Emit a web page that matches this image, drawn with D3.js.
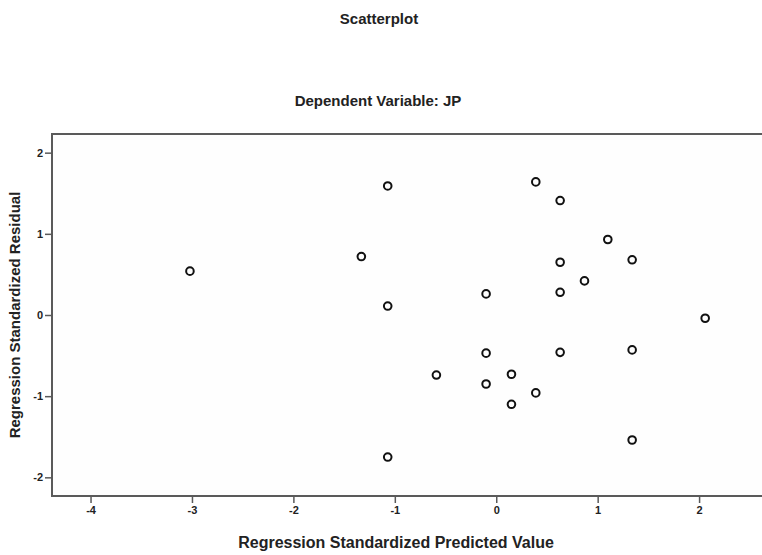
<!DOCTYPE html>
<html>
<head>
<meta charset="utf-8">
<script src="https://cdn.jsdelivr.net/npm/d3@7"></script>
<style>
  body { margin: 0; background: #fff; }
  svg text { font-family: "Liberation Sans", Arial, sans-serif; font-weight: bold; fill: #222; }
</style>
</head>
<body>
<div id="chart"></div>
<script>
// predicted value (x) and residual (y) for each case
var predicted = [-3.02, -1.33, -1.07, -1.07, -1.07, -0.59, -0.10, -0.10, -0.10, 0.15, 0.15,
                 0.39, 0.39, 0.63, 0.63, 0.63, 0.63, 0.87, 1.10, 1.34, 1.34, 1.34, 2.06];
var residual  = [0.54, 0.72, 1.59, 0.11, -1.75, -0.74, 0.26, -0.47, -0.85, -0.73, -1.10,
                 1.64, -0.96, 1.41, 0.65, 0.28, -0.46, 0.42, 0.93, 0.68, -0.43, -1.54, -0.04];
var xTicks = [-4, -3, -2, -1, 0, 1, 2];
var yTicks = [-2, -1, 0, 1, 2];

var data = predicted.map(function(d, i) { return {x: d, y: residual[i]}; });

var W = 762, H = 555;
var plot = {left: 52, top: 134, right: 764, bottom: 496};

var svg = d3.select("#chart").append("svg")
    .attr("width", W)
    .attr("height", H);

var x = d3.scaleLinear().domain([-4.38, 2.64]).range([plot.left, plot.right]);
var y = d3.scaleLinear().domain([-2.23, 2.23]).range([plot.bottom, plot.top]);

// plain hyphen minus like the original output
var fmt = function(d) { return String(d); };

// frame
svg.append("rect")
    .attr("x", plot.left)
    .attr("y", plot.top)
    .attr("width", plot.right - plot.left)
    .attr("height", plot.bottom - plot.top)
    .attr("fill", "#fefefe")
    .attr("stroke", "#5a5a5a")
    .attr("stroke-width", 2);

var xAxis = svg.append("g")
    .attr("transform", "translate(0," + plot.bottom + ")")
    .call(d3.axisBottom(x).tickValues(xTicks).tickFormat(fmt).tickSize(7).tickPadding(3));

var yAxis = svg.append("g")
    .attr("transform", "translate(" + plot.left + ",0)")
    .call(d3.axisLeft(y).tickValues(yTicks).tickFormat(fmt).tickSize(7).tickPadding(2));

[xAxis, yAxis].forEach(function(g) {
  g.select(".domain").remove();
  g.selectAll(".tick line").attr("stroke", "#5a5a5a").attr("stroke-width", 1.5);
  g.selectAll(".tick text").style("font-size", "11px").attr("fill", "#333");
});

// points
svg.append("g").selectAll("circle")
  .data(data)
  .enter().append("circle")
    .attr("cx", function(d) { return x(d.x); })
    .attr("cy", function(d) { return y(d.y); })
    .attr("r", 3.8)
    .attr("fill", "none")
    .attr("stroke", "#111")
    .attr("stroke-width", 2);

// titles
svg.append("text")
    .attr("x", 379).attr("y", 24)
    .attr("text-anchor", "middle")
    .style("font-size", "15px")
    .text("Scatterplot");

svg.append("text")
    .attr("x", 378).attr("y", 106)
    .attr("text-anchor", "middle")
    .style("font-size", "15px")
    .text("Dependent Variable: JP");

svg.append("text")
    .attr("x", 396).attr("y", 548)
    .attr("text-anchor", "middle")
    .style("font-size", "16px")
    .text("Regression Standardized Predicted Value");

svg.append("text")
    .attr("transform", "translate(20,315) rotate(-90)")
    .attr("text-anchor", "middle")
    .style("font-size", "15px")
    .text("Regression Standardized Residual");
</script>
</body>
</html>
